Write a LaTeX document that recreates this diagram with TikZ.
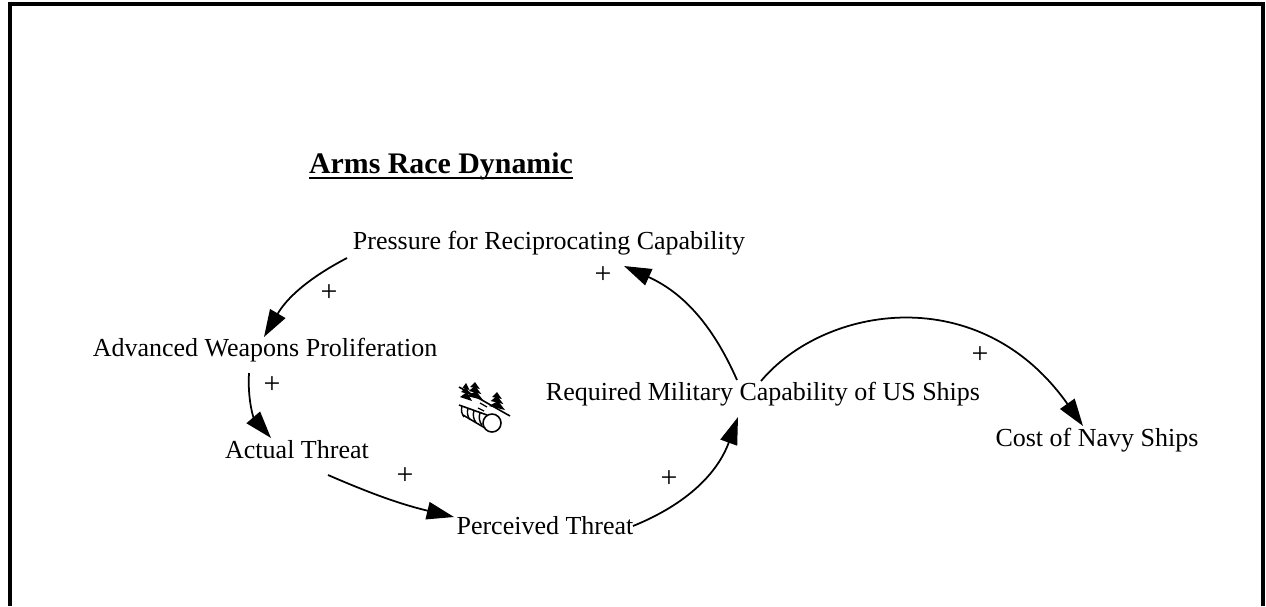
\documentclass[tikz,border=0pt]{standalone}
\usepackage{fontspec}
\setmainfont{Liberation Serif}
\usetikzlibrary{arrows.meta}
\tikzset{
 var/.style={inner sep=0pt, anchor=base, font=\fontsize{14.8}{17}\selectfont},
 sign/.style={inner sep=0pt, font=\fontsize{17}{19}\selectfont},
 link/.style={-{Triangle[length=15.5pt,width=10pt]}, line width=1pt},
}
\begin{document}
\begin{tikzpicture}[x=0.02cm,y=-0.02cm]
 \useasboundingbox (0,0) rectangle (1266,606);
 \draw[line width=2.2pt] (10,606) -- (10,4) -- (1263,4) -- (1263,606);

 \node[var, font=\fontsize{17}{19}\selectfont\bfseries] (title) at (441,173) {Arms Race Dynamic};
 \draw[line width=1.1pt] ([yshift=-3pt]title.base west) -- ([yshift=-3pt]title.base east);
 \node[var] (pressure) at (549,249) {Pressure for Reciprocating Capability};
 \node[var] (advanced) at (265,356) {Advanced Weapons Proliferation};
 \node[var] (actual) at (297,458) {Actual Threat};
 \node[var] (perceived) at (545,534) {Perceived Threat};
 \node[var] (required) at (763,400) {Required Military Capability of US Ships};
 \node[var] (cost) at (1097,446) {Cost of Navy Ships};

 \coordinate (p1) at (347,258);
 \coordinate (p2) at (264,337);
 \coordinate (a1) at (249,373);
 \coordinate (a2) at (271,438);
 \coordinate (t1) at (328,475);
 \coordinate (t2) at (454,517);
 \coordinate (q1) at (633,526);
 \coordinate (q2) at (738,417);
 \coordinate (r1) at (737,380);
 \coordinate (r2) at (624,266);
 \coordinate (r3) at (761,381);
 \coordinate (c1) at (1083,426);

 \draw[link] (p1) to[bend right=16] (p2);
 \draw[link] (a1) to[bend right=22] (a2);
 \draw[link] (t1) to[bend right=5] (t2);
 \draw[link] (q1) to[bend right=24] (q2);
 \draw[link] (r1) to[bend right=21] (r2);
 \draw[link] (r3) .. controls (825,305) and (980,280) .. (c1);

 \node[sign] (s1) at (329,293) {+};
 \node[sign] (s2) at (272,385) {+};
 \node[sign] (s3) at (405,476) {+};
 \node[sign] (s4) at (669,479) {+};
 \node[sign] (s5) at (603,275) {+};
 \node[sign] (s6) at (980,355) {+};

 % trees and log
 \draw[line width=0.9pt] (459,387) -- (510,416);
 \foreach \tx/\ty/\tw in {475/382/8, 466/383/6, 497/392/8} {
  \fill (\tx,\ty) -- (\tx+0.6*\tw,\ty+7) -- (\tx-0.6*\tw,\ty+5) -- cycle;
  \fill (\tx,\ty+4) -- (\tx+0.8*\tw,\ty+12) -- (\tx-0.8*\tw,\ty+9) -- cycle;
  \fill (\tx+1,\ty+9) -- (\tx+\tw,\ty+18) -- (\tx-\tw,\ty+14) -- cycle;
 }
 \draw[line width=0.9pt] (492,423) circle (9);
 \draw[line width=0.9pt] (459,405) -- (487,415) (463,415) -- (485,428);
 \foreach \i in {0,1,2,3}
  \draw[line width=0.8pt] (462+\i*6,406+\i*2.2) to[bend right=25] (464+\i*6,417+\i*2.8);
 \draw[line width=0.7pt] (478,408) -- (484,411) (480,403) -- (487,407);
\end{tikzpicture}
\end{document}
